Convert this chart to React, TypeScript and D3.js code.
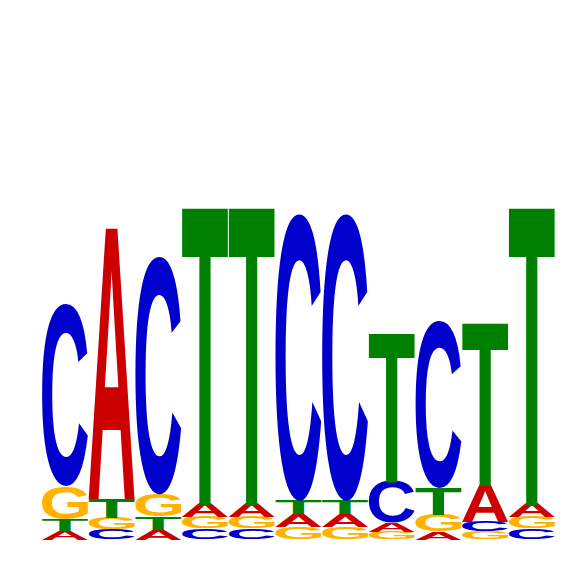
import { useMemo } from "react";
import * as d3 from "d3";

// information content (bits) per letter at each position
const POSITIONS = ["1", "2", "3", "4", "5", "6", "7", "8", "9", "10", "11"];
const A_BITS = [0.053, 1.596, 0.059, 0.082, 0.082, 0.076, 0.076, 0.053, 0.047, 0.218, 0.082];
const C_BITS = [1.069, 0.059, 1.401, 0.064, 0.064, 1.692, 1.692, 0.244, 0.99, 0.059, 0.064];
const G_BITS = [0.194, 0.068, 0.13, 0.066, 0.066, 0.072, 0.072, 0.047, 0.1, 0.047, 0.066];
const T_BITS = [0.065, 0.112, 0.077, 1.741, 1.741, 0.079, 0.079, 0.866, 0.156, 0.954, 1.741];

const LETTERS = ["A", "C", "G", "T"];
const COLORS: Record<string, string> = {
  A: "#cc0000",
  C: "#0000cc",
  G: "#ffb300",
  T: "#008000",
};

const WIDTH = 566;
const HEIGHT = 566;
const FONT = "'Liberation Sans', Arial, sans-serif";
const FONT_SIZE = 200;

interface Metric {
  left: number;
  right: number;
  ascent: number;
  descent: number;
}

// find the ink box of each glyph by drawing it and scanning the pixels
function measureGlyphs(): Record<string, Metric> {
  const size = 400;
  const ox = 100;
  const oy = 300;
  const canvas = document.createElement("canvas");
  canvas.width = size;
  canvas.height = size;
  const ctx = canvas.getContext("2d")!;
  const out: Record<string, Metric> = {};
  LETTERS.forEach((ch) => {
    ctx.clearRect(0, 0, size, size);
    ctx.font = `bold ${FONT_SIZE}px ${FONT}`;
    ctx.fillStyle = "#000";
    ctx.fillText(ch, ox, oy);
    const data = ctx.getImageData(0, 0, size, size).data;
    let x0 = size, x1 = 0, y0 = size, y1 = 0;
    for (let yy = 0; yy < size; yy++) {
      for (let xx = 0; xx < size; xx++) {
        if (data[(yy * size + xx) * 4 + 3] > 127) {
          if (xx < x0) x0 = xx;
          if (xx > x1) x1 = xx;
          if (yy < y0) y0 = yy;
          if (yy > y1) y1 = yy;
        }
      }
    }
    out[ch] = { left: ox - x0, right: x1 + 1 - ox, ascent: oy - y0, descent: y1 + 1 - oy };
  });
  return out;
}

export default function App() {
  const metrics = useMemo(() => measureGlyphs(), []);

  const x = d3.scaleBand<string>().domain(POSITIONS).range([42, 554.6]).paddingInner(0.02);
  const y = d3.scaleLinear().domain([0, 2]).range([539.5, 200]);

  const bits: Record<string, number[]> = { A: A_BITS, C: C_BITS, G: G_BITS, T: T_BITS };

  const glyphs: { key: string; ch: string; x: number; top: number; w: number; h: number }[] = [];
  POSITIONS.forEach((pos, i) => {
    const stack = LETTERS.map((ch) => ({ ch, v: bits[ch][i] })).sort((a, b) => a.v - b.v);
    let base = 0;
    stack.forEach(({ ch, v }) => {
      const top = y(base + v);
      const bottom = y(base);
      glyphs.push({ key: `${pos}-${ch}`, ch, x: x(pos)!, top, w: x.bandwidth(), h: bottom - top });
      base += v;
    });
  });

  return (
    <div style={{ position: "fixed", left: 0, top: 0 }}>
      <svg width={WIDTH} height={HEIGHT} style={{ display: "block", background: "#fff" }}>
        {glyphs.map((g) => {
          const m = metrics[g.ch];
          const sx = g.w / (m.left + m.right);
          const sy = g.h / (m.ascent + m.descent);
          return (
            <text
              key={g.key}
              transform={`translate(${g.x},${g.top}) scale(${sx},${sy}) translate(${m.left},${m.ascent})`}
              fontFamily={FONT}
              fontWeight="bold"
              fontSize={FONT_SIZE}
              fill={COLORS[g.ch]}
            >
              {g.ch}
            </text>
          );
        })}
      </svg>
    </div>
  );
}
